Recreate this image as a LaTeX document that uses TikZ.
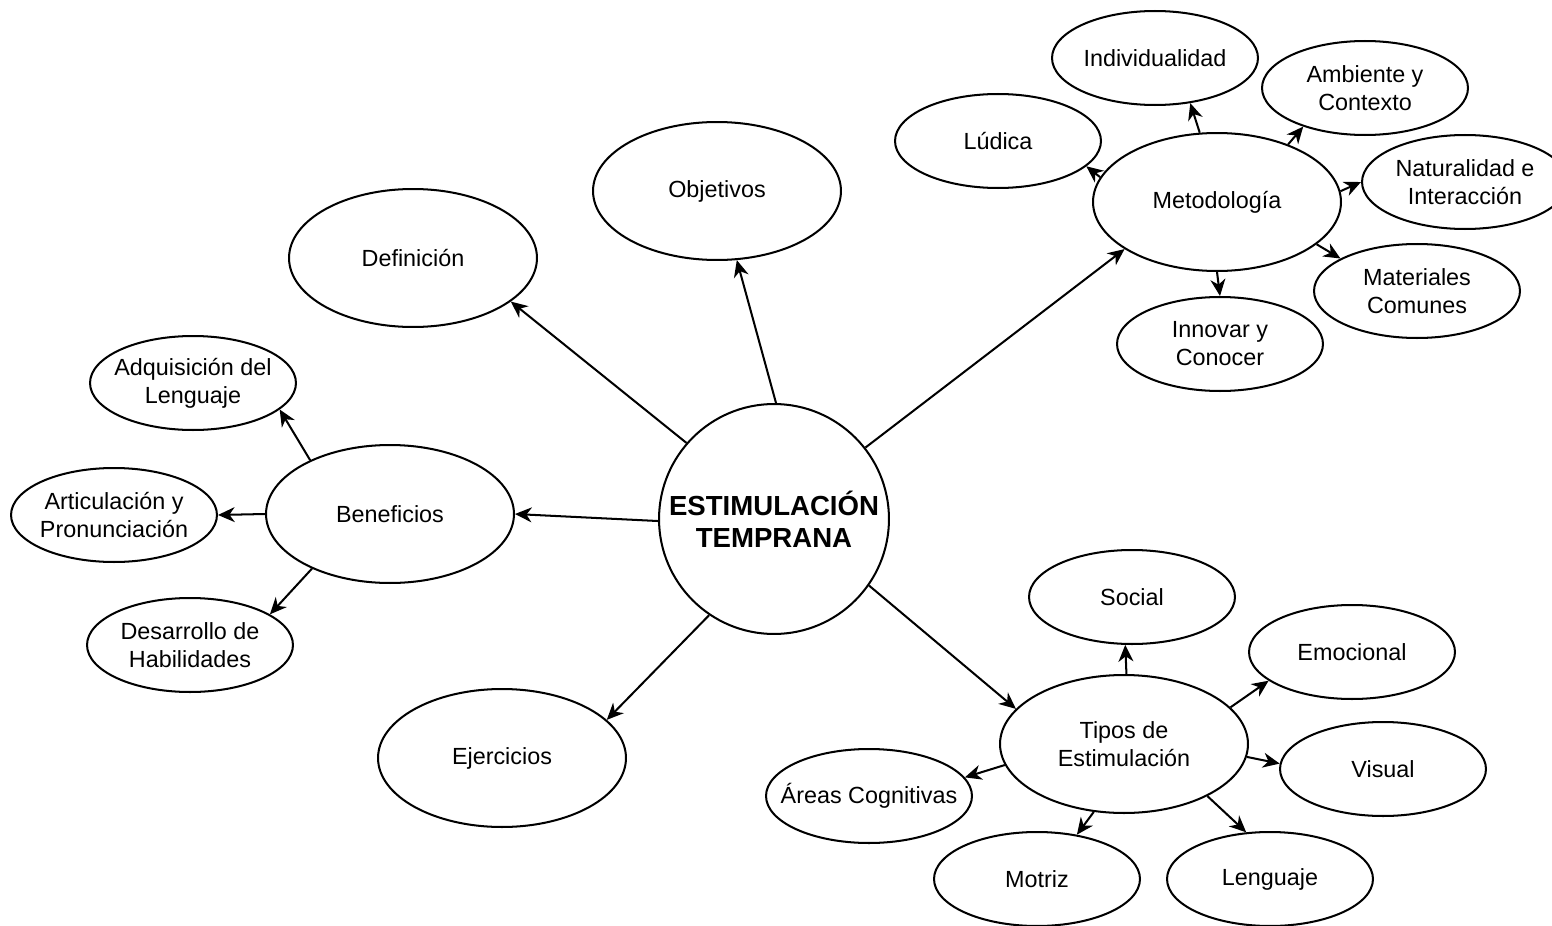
\documentclass[tikz,border=0pt]{standalone}
\usepackage{fontspec}
\setmainfont{Liberation Sans}
\usetikzlibrary{shapes.geometric,arrows.meta}

\begin{document}
\begin{tikzpicture}[x=0.02cm, y=-0.02cm, line width=1.15pt,
  >={Stealth[length=9.5pt,width=8.5pt,inset=3pt]},
  every node/.style={draw, line width=1.15pt, ellipse, inner sep=0pt, align=center,
    font=\fontsize{13.3}{16}\selectfont},
  big/.style={minimum width=4.96cm, minimum height=2.76cm},
  small/.style={minimum width=4.12cm, minimum height=1.88cm, inner xsep=-12pt}]
  \useasboundingbox (0,0) rectangle (1552,926);

  \node[circle, minimum size=4.6cm, font=\bfseries\fontsize{15.7}{18}\selectfont] (est) at (774,519) {ESTIMULACIÓN\\TEMPRANA};

  \node[big] (obj) at (717,191) {Objetivos};
  \node[big] (def) at (413,258) {Definición};
  \node[big] (ben) at (390,514) {Beneficios};
  \node[big] (eje) at (502,758) {Ejercicios};
  \node[big] (met) at (1217,202) {Metodología};
  \node[big] (tip) at (1124,744) {Tipos de\\Estimulación};

  \node[small] (adq) at (193,383) {Adquisición del\\Lenguaje};
  \node[small] (art) at (114,515) {Articulación y\\Pronunciación};
  \node[small] (des) at (190,645) {Desarrollo de\\Habilidades};

  \node[small] (lud) at (998,141) {Lúdica};
  \node[small] (ind) at (1155,58) {Individualidad};
  \node[small] (amb) at (1365,88) {Ambiente y\\Contexto};
  \node[small] (nat) at (1465,182) {Naturalidad e\\Interacción};
  \node[small] (mat) at (1417,291) {Materiales\\Comunes};
  \node[small] (inn) at (1220,344) {Innovar y\\Conocer};

  \node[small] (soc) at (1132,597) {Social};
  \node[small] (emo) at (1352,652) {Emocional};
  \node[small] (vis) at (1383,769) {Visual};
  \node[small] (len) at (1270,879) {Lenguaje};
  \node[small] (mot) at (1037,879) {Motriz};
  \node[small] (are) at (869,796) {Áreas Cognitivas};

  \path[->]
  (est.139) edge (def.-24)
  (est.89) edge (obj.-74)
  (est.38) edge (met.-153)
  (est.181) edge (ben.0)
  (est.-124) edge (eje.20)
  (est.-35) edge (tip.162)
  (ben.146) edge (adq.-17)
  (ben.180) edge (art.0)
  (ben.-145) edge (des.21)
  (met.168) edge (lud.-16)
  (met.104) edge (ind.-52)
  (met.39) edge (amb.-148)
  (met.5) edge (nat.180)
  (met.-23) edge (mat.157)
  (met.-90) edge (inn.90)
  (tip.88) edge (soc.-98)
  (tip.19) edge (emo.-161)
  (tip.-6) edge (vis.177)
  (tip.-32) edge (len.117)
  (tip.-114) edge (mot.48)
  (tip.190) edge (are.11);
\end{tikzpicture}
\end{document}
